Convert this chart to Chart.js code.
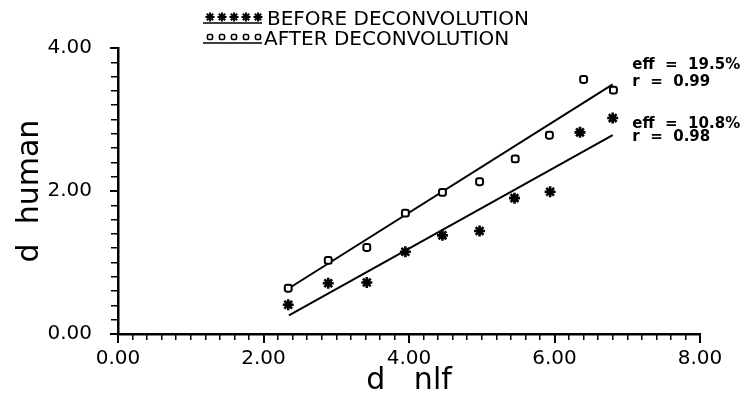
<!DOCTYPE html>
<html>
<head>
<meta charset="utf-8">
<script src="https://cdn.jsdelivr.net/npm/chart.js@4"></script>
<style>
  html, body { margin: 0; padding: 0; background: #fff; }
</style>
</head>
<body>
<canvas id="myChart" width="741" height="402"></canvas>
<script>
// values
const beforeX = [2.34, 2.89, 3.42, 3.95, 4.46, 4.97, 5.45, 5.94, 6.35, 6.80];
const beforeY = [0.41, 0.71, 0.72, 1.15, 1.38, 1.44, 1.90, 1.99, 2.82, 3.02];
const afterX = [2.34, 2.89, 3.42, 3.95, 4.46, 4.97, 5.46, 5.93, 6.40, 6.81];
const afterY = [0.64, 1.03, 1.21, 1.69, 1.98, 2.13, 2.45, 2.78, 3.56, 3.41];
const fitBeforeX = [2.35, 6.80];
const fitBeforeY = [0.26, 2.78];
const fitAfterX = [2.35, 6.80];
const fitAfterY = [0.64, 3.49];
const legendLabels = ["BEFORE DECONVOLUTION", "AFTER DECONVOLUTION"];
const statLabels = [["eff  =  19.5%", "r  =  0.99"], ["eff  =  10.8%", "r  =  0.98"]];
const statAnchorX = [7.07, 7.07];
const statAnchorY = [[3.76, 3.52], [2.94, 2.76]];

const FONT = "'DejaVu Sans', sans-serif";

function toPoints(xs, ys) {
  return xs.map((x, i) => ({ x: x, y: ys[i] }));
}

// legend drawn at top + fit statistics beside the lines
const extras = {
  id: "extras",
  afterDraw(chart) {
    const ctx = chart.ctx;
    const xs = chart.scales.x;
    const ys = chart.scales.y;
    ctx.save();
    ctx.fillStyle = "#000";
    ctx.strokeStyle = "#000";
    ctx.textBaseline = "middle";
    ctx.textAlign = "left";

    // legend rows
    const rows = [
      { style: "star", radius: 4.5, bw: 2, y: 17, line: 23, textY: 20, textX: 267 },
      { style: "rectRounded", radius: 3, bw: 1.6, y: 37, line: 43, textY: 40, textX: 264 },
    ];
    rows.forEach((r, i) => {
      for (let k = 0; k < 5; k++) {
        const px = 210 + k * 12;
        ctx.fillStyle = "#fff";
        ctx.lineWidth = r.bw;
        Chart.helpers.drawPoint(ctx, { pointStyle: r.style, radius: r.radius, rotation: 0, borderWidth: r.bw }, px, r.y);
      }
      ctx.lineWidth = 1.6;
      ctx.beginPath();
      ctx.moveTo(203, r.line);
      ctx.lineTo(262, r.line);
      ctx.stroke();
      ctx.fillStyle = "#000";
      ctx.font = "20px " + FONT;
      ctx.fillText(legendLabels[i], r.textX, r.textY);
    });

    // eff / r labels
    ctx.font = "bold 15px " + FONT;
    statLabels.forEach((pair, i) => {
      pair.forEach((t, j) => {
        ctx.fillText(t, xs.getPixelForValue(statAnchorX[i]), ys.getPixelForValue(statAnchorY[i][j]));
      });
    });
    ctx.restore();
  },
};

const data = {
  datasets: [
    {
      label: "before",
      data: toPoints(beforeX, beforeY),
      pointStyle: "star",
      pointRadius: 5.5,
      borderColor: "#000",
      backgroundColor: "#000",
      pointBorderWidth: 2.6,
      showLine: false,
    },
    {
      label: "after",
      data: toPoints(afterX, afterY),
      pointStyle: "rectRounded",
      pointRadius: 4,
      borderColor: "#000",
      backgroundColor: "#fff",
      pointBorderWidth: 2,
      showLine: false,
    },
    {
      label: "fit before",
      data: toPoints(fitBeforeX, fitBeforeY),
      showLine: true,
      pointRadius: 0,
      borderColor: "#000",
      borderWidth: 2,
    },
    {
      label: "fit after",
      data: toPoints(fitAfterX, fitAfterY),
      showLine: true,
      pointRadius: 0,
      borderColor: "#000",
      borderWidth: 2,
    },
  ],
};

const config = {
  type: "scatter",
  data: data,
  options: {
    responsive: false,
    animation: false,
    layout: { padding: { top: 48, right: 41, left: 0, bottom: 0 } },
    plugins: { legend: { display: false }, tooltip: { enabled: false } },
    scales: {
      x: {
        type: "linear",
        position: "bottom",
        weight: 1,
        min: 0,
        max: 8,
        border: { color: "#000", width: 2.5 },
        grid: { drawOnChartArea: false, tickLength: 9, color: "#000", lineWidth: 2 },
        ticks: {
          stepSize: 2,
          padding: 4,
          color: "#000",
          font: { family: FONT, size: 20 },
          maxRotation: 0,
          callback: (value) => value.toFixed(2),
        },
        title: {
          display: true,
          text: "d   nlf",
          color: "#000",
          font: { family: FONT, size: 30 },
          padding: { top: 0, bottom: 3 },
        },
        afterFit: (s) => { s.height = 68; },
      },
      xMinor: {
        type: "linear",
        position: "bottom",
        weight: 0,
        min: 0,
        max: 8,
        border: { display: false },
        grid: { drawOnChartArea: false, tickLength: 6, color: "#000", lineWidth: 1.5 },
        ticks: { stepSize: 0.2, maxTicksLimit: 100, display: false },
        afterFit: (s) => { s.height = 0; },
      },
      y: {
        type: "linear",
        position: "left",
        weight: 1,
        min: 0,
        max: 4,
        border: { color: "#000", width: 2.5 },
        grid: { drawOnChartArea: false, tickLength: 8, color: "#000", lineWidth: 2 },
        ticks: {
          stepSize: 2,
          padding: 18,
          color: "#000",
          font: { family: FONT, size: 20 },
          callback: (value) => value.toFixed(2),
        },
        title: {
          display: true,
          text: "d  human",
          color: "#000",
          font: { family: FONT, size: 30 },
          padding: { top: 12, bottom: 0 },
        },
        afterFit: (s) => { s.width = 118; },
      },
      yMinor: {
        type: "linear",
        position: "left",
        weight: 0,
        min: 0,
        max: 4,
        border: { display: false },
        grid: { drawOnChartArea: false, tickLength: 7, color: "#000", lineWidth: 1.5 },
        ticks: { stepSize: 0.2, maxTicksLimit: 100, display: false },
        afterFit: (s) => { s.width = 0; },
      },
    },
  },
  plugins: [extras],
};

const myChart = new Chart(document.getElementById("myChart"), config);
</script>
</body>
</html>
